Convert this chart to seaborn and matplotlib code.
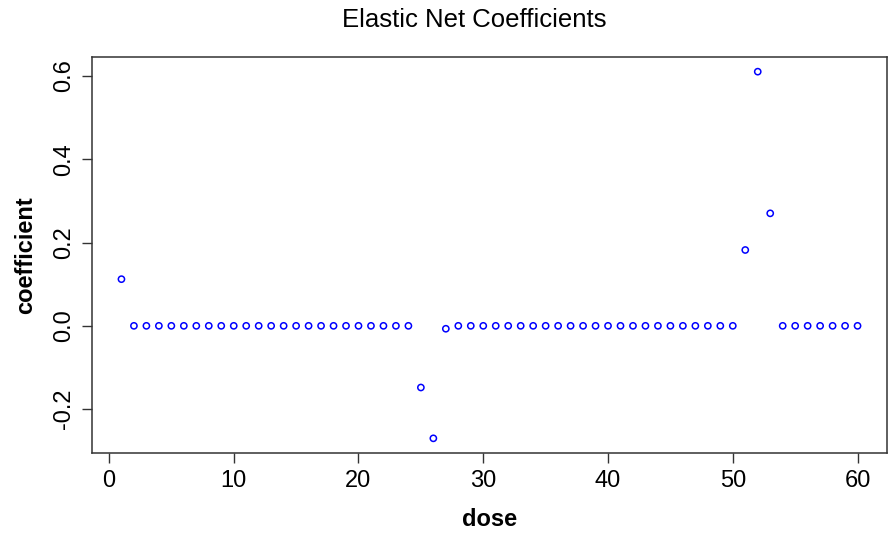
import matplotlib
matplotlib.use("Agg")
import matplotlib.pyplot as plt
import seaborn as sns
import pandas as pd

dose = list(range(1, 61))
coefficient = ([0.112] + [0.0] * 23 + [-0.148, -0.270, -0.007] + [0.0] * 23
               + [0.182, 0.610, 0.270] + [0.0] * 7)

df = pd.DataFrame({"dose": dose, "coefficient": coefficient})

sns.set_theme(style="white")
plt.rcParams['font.family'] = ['Liberation Sans', 'DejaVu Sans']
plt.rcParams['text.color'] = 'black'
plt.rcParams['axes.labelcolor'] = 'black'

fig = plt.figure(figsize=(8.9, 5.38), dpi=100)
ax = fig.add_axes([92 / 890, 1 - 453 / 538, (887 - 92) / 890, (453 - 57) / 538])

sns.scatterplot(data=df, x="dose", y="coefficient", ax=ax, marker="o",
                facecolor="none", edgecolor="#0000ff", linewidth=1.1, s=20)

ax.set_xlim(-1.36, 62.36)
ax.set_ylim(-0.3052, 0.6452)
ax.set_xticks([0, 10, 20, 30, 40, 50, 60])
ax.set_yticks([-0.2, 0.0, 0.2, 0.4, 0.6])
ax.set_yticklabels(["-0.2", "0.0", "0.2", "0.4", "0.6"], rotation=90, va="center")
ax.tick_params(axis="both", direction="out", length=7, width=1, color="#333333",
               labelsize=17, pad=5, left=True, bottom=True, labelcolor="black")
for s in ax.spines.values():
    s.set_color("#333333")
    s.set_linewidth(1.1)

ax.set_xlabel("dose", fontsize=17, fontweight="bold", labelpad=12, color="black")
ax.set_ylabel("coefficient", fontsize=17, fontweight="bold", labelpad=12, color="black")
fig.text(474 / 890, 1 - 20 / 538, "Elastic Net Coefficients",
         ha="center", va="center", fontsize=18.5, color="black")

fig.savefig("out.png", dpi=100)
